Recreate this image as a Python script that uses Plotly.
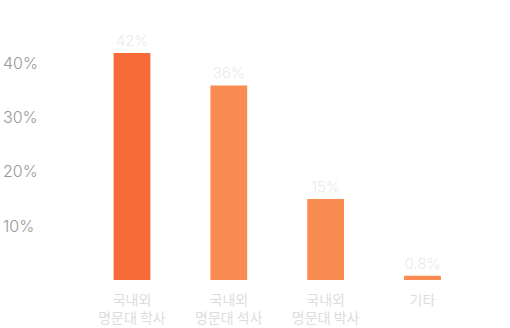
import plotly.graph_objects as go

categories = ["국내외<br>명문대 학사", "국내외<br>명문대 석사", "국내외<br>명문대 박사", "기타"]
values = [42, 36, 15, 0.8]
value_labels = ["42%", "36%", "15%", "0.8%"]
bar_colors = ["#f76b39", "#fa8c52", "#fa8c52", "#fa8c52"]
y_ticks = [10, 20, 30, 40]
y_tick_labels = ["10%", "20%", "30%", "40%"]

fig = go.Figure(
    go.Bar(
        x=categories,
        y=values,
        width=0.38,
        marker=dict(color=bar_colors, line=dict(width=0)),
        text=value_labels,
        textposition="outside",
        textfont=dict(family="Inter", size=15, color="#ebebeb", weight=300),
        constraintext="none",
        cliponaxis=False,
        hoverinfo="skip",
    )
)

fig.update_layout(
    width=510,
    height=328,
    margin=dict(l=0, r=0, t=20, b=48),
    paper_bgcolor="white",
    plot_bgcolor="white",
    showlegend=False,
    xaxis=dict(
        type="category",
        range=[-1.363, 3.904],
        showgrid=False,
        zeroline=False,
        showline=False,
        ticks="",
        automargin=False,
        ticklabelstandoff=10,
        tickfont=dict(family="Noto Sans CJK KR", size=14, color="#dddddd"),
    ),
    yaxis=dict(
        range=[0, 48.1],
        tickvals=y_ticks,
        ticktext=y_tick_labels,
        ticklabelposition="inside",
        automargin=False,
        showgrid=False,
        zeroline=False,
        showline=False,
        ticks="",
        tickfont=dict(family="Inter", size=16, color="#999999", weight=300),
    ),
)

fig.write_html("out.html")
